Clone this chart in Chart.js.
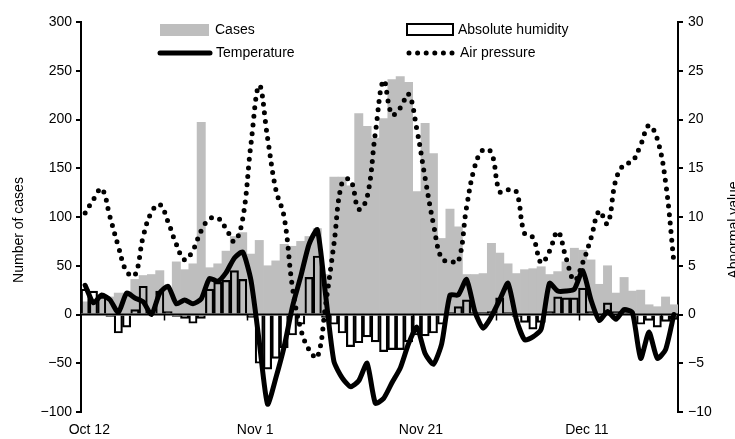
<!DOCTYPE html>
<html>
<head>
<meta charset="utf-8">
<script src="https://cdn.jsdelivr.net/npm/chart.js@4.4.1/dist/chart.umd.min.js"></script>
<style>
  html, body { margin: 0; padding: 0; background: #ffffff; }
  #wrap { width: 735px; height: 439px; }
</style>
</head>
<body>
<div id="wrap"><canvas id="chart" width="735" height="439"></canvas></div>
<script>
// Daily series, Oct 12 – Dec 22 (72 days)
const dayCount = 72;

// Daily number of cases (left axis)
const cases = [13, 14, 16, 18, 22, 22, 36, 40, 41, 45,
               27, 54, 46, 52, 197, 48, 52, 65, 80, 84,
               62, 76, 50, 55, 72, 70, 75, 80, 88, 41,
               141, 141, 132, 206, 193, 181, 201, 241, 244, 238,
               126, 196, 165, 78, 108, 90, 41, 41, 42, 73,
               63, 52, 42, 46, 47, 49, 41, 44, 54, 68,
               66, 56, 31, 50, 22, 38, 24, 25, 10, 8,
               18, 10];

// Abnormal values (right axis)
const humidity = [2.6, 2.4, 1.8, -0.2, -1.9, -1.3, 0.5, 2.9, 0.1, 2.4,
                  0.3, -0.2, -0.4, -0.9, -0.4, 2.6, 3.3, 3.5, 4.5, 3.6,
                  -0.3, -5.0, -5.6, -4.5, -3.4, -2.1, -1.0, 3.8, 6.0, -0.3,
                  -1.0, -1.9, -3.3, -2.9, -2.3, -2.8, -3.8, -3.6, -3.6, -2.8,
                  -2.1, -2.2, -1.9, -1.0, 0.2, 0.8, 1.5, 0.2, 0.2, 0.3,
                  1.7, 0.2, -0.2, -0.8, -1.5, -0.8, 0.3, 1.8, 1.7, 1.7,
                  2.7, 0.3, 0.1, 1.2, 0.3, 0.2, 0.1, -1.0, -0.6, -1.3,
                  -0.7, -0.5];

const temperature = [3.0, 1.2, 2.0, 1.5, 0.2, 2.2, 1.7, 1.3, 0.0, 2.2,
                     2.9, 1.1, 1.5, 1.1, 1.6, 3.7, 3.4, 4.3, 5.8, 6.4,
                     3.5, -2.8, -9.2, -6.5, -3.3, 0.8, 3.9, 7.2, 8.7, 2.0,
                     -4.8, -6.5, -7.4, -6.8, -5.0, -9.1, -8.6, -7.0, -5.5, -3.0,
                     -1.3, -4.0, -5.1, -3.0, 2.0, 2.0, 3.6, 0.3, -1.4, -0.2,
                     1.5, 3.2, -0.5, -2.6, -2.3, -1.5, 3.2, 2.4, 2.4, 2.6,
                     4.5, 1.5, -0.6, 0.3, -0.5, 0.5, 0.2, -4.5, -1.8, -4.5,
                     -3.6, 0.0];

const airPressure = [10.4, 11.8, 12.9, 10.0, 7.0, 4.4, 4.0, 8.0, 10.5, 11.3,
                     9.5, 7.2, 5.6, 6.6, 8.6, 9.8, 9.9, 8.8, 7.5, 9.8,
                     17.5, 23.5, 18.1, 12.8, 10.0, 2.8, -1.5, -3.6, -4.4, 1.0,
                     7.2, 13.6, 13.8, 10.8, 12.0, 18.6, 24.0, 20.5, 21.2, 22.6,
                     19.0, 14.0, 9.3, 5.7, 5.5, 5.4, 11.0, 15.2, 16.9, 16.6,
                     12.6, 12.8, 12.6, 8.3, 7.9, 5.3, 6.5, 8.5, 5.8, 3.5,
                     5.3, 7.8, 10.6, 9.3, 13.8, 15.4, 15.7, 17.4, 19.4, 18.0,
                     13.6, 5.4];

// Date labels on the time axis and the day each one marks
const tickLabels = ['Oct 12', 'Nov 1', 'Nov 21', 'Dec 11'];
const tickDays = [0, 20, 40, 60];

const FONT = '"Liberation Sans", Arial, Helvetica, sans-serif';
const GREY = '#bebebe';

// each day occupies [i, i+1] on the x scale; marks sit at the middle
const asPoints = arr => arr.map((v, i) => ({ x: i + 0.5, y: v }));

Chart.defaults.font.family = FONT;
Chart.defaults.font.size = 14;
Chart.defaults.color = '#000';

const minus = v => (v < 0 ? '\u2212' + Math.abs(v) : String(v));

const decor = {
  id: 'decor',
  afterDatasetDraw(chart, args) {
    if (args.index !== 1) return;
    // zero baseline with a small mark every ten days
    const { ctx, chartArea, scales } = chart;
    const y0 = scales.y.getPixelForValue(0);
    ctx.save();
    ctx.strokeStyle = '#000';
    ctx.lineWidth = 2;
    ctx.beginPath();
    ctx.moveTo(chartArea.left, y0);
    ctx.lineTo(chartArea.right, y0);
    ctx.stroke();
    ctx.lineWidth = 1.5;
    for (let d = 10; d < dayCount; d += 10) {
      const x = Math.round(scales.x.getPixelForValue(d)) + 0.5;
      ctx.beginPath();
      ctx.moveTo(x, y0);
      ctx.lineTo(x, y0 + 6);
      ctx.stroke();
    }
    ctx.restore();
  },
  afterDraw(chart) {
    const { ctx } = chart;
    ctx.save();
    ctx.fillStyle = '#000';
    ctx.font = '14px ' + FONT;
    ctx.textBaseline = 'middle';
    ctx.textAlign = 'left';

    // legend
    ctx.fillStyle = GREY;
    ctx.fillRect(160, 24, 49, 12);
    ctx.fillStyle = '#000';
    ctx.fillText('Cases', 215, 30);

    ctx.strokeStyle = '#000';
    ctx.lineCap = 'round';
    ctx.lineWidth = 5;
    ctx.beginPath();
    ctx.moveTo(160, 53);
    ctx.lineTo(210, 53);
    ctx.stroke();
    ctx.fillText('Temperature', 216, 53);

    ctx.lineCap = 'butt';
    ctx.lineWidth = 2;
    ctx.strokeRect(407, 24, 46, 11);
    ctx.fillText('Absolute humidity', 458, 30);

    ctx.lineCap = 'round';
    ctx.lineWidth = 5;
    ctx.setLineDash([0, 8.6]);
    ctx.beginPath();
    ctx.moveTo(409, 53);
    ctx.lineTo(453, 53);
    ctx.stroke();
    ctx.setLineDash([]);
    ctx.fillText('Air pressure', 460, 53);

    // axis titles
    ctx.textAlign = 'center';
    ctx.save();
    ctx.translate(19, 230);
    ctx.rotate(-Math.PI / 2);
    ctx.fillText('Number of cases', 0, 0);
    ctx.restore();
    ctx.save();
    ctx.translate(734, 230);
    ctx.rotate(-Math.PI / 2);
    ctx.fillText('Abnormal value', 0, 0);
    ctx.restore();
    ctx.restore();
  }
};

new Chart(document.getElementById('chart'), {
  data: {
    datasets: [
      {
        type: 'bar', label: 'Cases', data: asPoints(cases), yAxisID: 'y',
        backgroundColor: GREY, borderWidth: 0,
        barPercentage: 1, categoryPercentage: 1, grouped: false, order: 4
      },
      {
        type: 'bar', label: 'Absolute humidity', data: asPoints(humidity), yAxisID: 'y2',
        backgroundColor: 'rgba(0,0,0,0)', borderColor: '#000', borderWidth: 1.5,
        barPercentage: 1, categoryPercentage: 1, grouped: false, order: 3
      },
      {
        type: 'line', label: 'Air pressure', data: asPoints(airPressure), yAxisID: 'y2',
        borderColor: '#000', borderWidth: 5, borderDash: [0, 8.6], borderCapStyle: 'round',
        pointRadius: 0, tension: 0.4, fill: false, order: 2
      },
      {
        type: 'line', label: 'Temperature', data: asPoints(temperature), yAxisID: 'y2',
        borderColor: '#000', borderWidth: 5, borderJoinStyle: 'round', borderCapStyle: 'round',
        pointRadius: 0, tension: 0.2, fill: false, order: 1
      }
    ]
  },
  options: {
    responsive: false,
    animation: false,
    devicePixelRatio: 1,
    events: [],
    layout: { padding: { top: 22, left: 0, right: 0, bottom: 0 } },
    plugins: { legend: { display: false }, tooltip: { enabled: false } },
    scales: {
      x: {
        type: 'linear', min: 0, max: dayCount, offset: false,
        grid: { display: false, drawTicks: false },
        border: { display: false },
        afterBuildTicks: s => { s.ticks = tickDays.map(d => ({ value: d + 1 })); },
        afterFit: s => { s.height = 27; },
        ticks: {
          autoSkip: false, maxRotation: 0, padding: 10,
          callback: v => tickLabels[tickDays.indexOf(v - 1)] ?? ''
        }
      },
      y: {
        position: 'left', min: -100, max: 300,
        afterFit: s => { s.width = 81; },
        border: { display: true, color: '#000', width: 2 },
        grid: { drawOnChartArea: false, drawTicks: true, tickLength: 5, color: '#000', lineWidth: 2 },
        ticks: { stepSize: 50, padding: 4, callback: minus }
      },
      y2: {
        position: 'right', min: -10, max: 30,
        afterFit: s => { s.width = 57; },
        border: { display: true, color: '#000', width: 2 },
        grid: { drawOnChartArea: false, drawTicks: true, tickLength: 5, color: '#000', lineWidth: 2 },
        ticks: { stepSize: 5, padding: 5, callback: minus }
      }
    }
  },
  plugins: [decor]
});
</script>
</body>
</html>
